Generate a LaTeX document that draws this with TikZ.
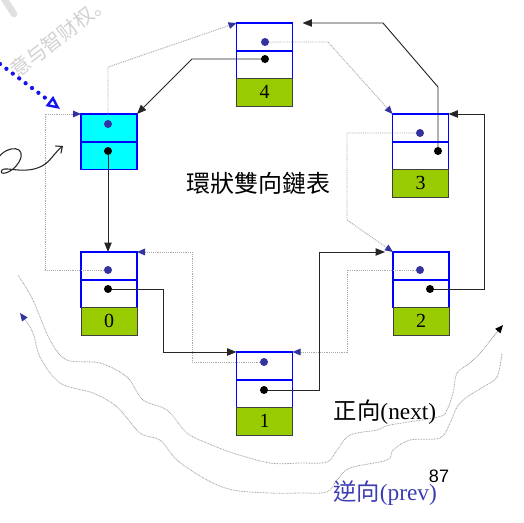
\documentclass[tikz,border=0pt]{standalone}
\usepackage{fontspec}
\setmainfont{Liberation Serif}
\newfontfamily\cjk{Noto Sans CJK TC}
\newfontfamily\cjksc{Noto Sans CJK SC}
\newfontfamily\sansf{Liberation Sans}
\usetikzlibrary{arrows.meta,calc}
\definecolor{boxblue}{RGB}{0,0,255}
\definecolor{headcyan}{RGB}{0,255,255}
\definecolor{datagreen}{RGB}{153,204,0}
\definecolor{prevblue}{RGB}{51,51,160}
\definecolor{prevgray}{RGB}{170,170,170}
\definecolor{txtblue}{RGB}{60,60,180}
\definecolor{hintblue}{RGB}{20,20,240}
\newcommand\lnode[4]{%
  \node[ptrcell] (#1p) at (#2,#3+13.85) {};
  \node[ptrcell] (#1n) at (#2,#3+41.55) {};
  \node[datacell] (#1d) at (#2,#3+69.25) {#4};
}
\begin{document}
\begin{tikzpicture}[x=0.75pt,y=-0.75pt,
  ptrcell/.style={draw=boxblue,line width=1.3pt,fill=white,minimum width=42pt,minimum height=20.8pt,inner sep=0pt,outer sep=0pt},
  headcell/.style={ptrcell,fill=headcyan},
  datacell/.style={draw=black!75,line width=0.6pt,fill=datagreen,minimum width=42pt,minimum height=20.8pt,inner sep=0pt,outer sep=0pt,font=\fontsize{15}{15}\selectfont},
  nextdot/.style={circle,fill=black,minimum size=6pt,inner sep=0pt},
  prevdot/.style={circle,fill=prevblue,minimum size=6pt,inner sep=0pt},
  nextline/.style={draw=black!85,line width=0.7pt,-{Triangle[length=7pt,width=5.5pt]}},
  prevline/.style={draw=prevgray,line width=0.7pt,dash pattern=on 0.7pt off 0.7pt,-{Triangle[length=6pt,width=5pt,color=prevblue]}},
  wavy/.style={draw=gray!75,line width=0.6pt,dash pattern=on 0.6pt off 0.6pt},
]
\useasboundingbox (0,0) rectangle (524,522);

% watermark
\draw[line width=5pt,black!12,line cap=round] (3,-3) -- (14,14);
\node[font=\cjksc\fontsize{15}{15}\selectfont,text=black!18,rotate=38,inner sep=0pt] (wm) at (60,36) {意与智财权。};

% cells
\node[headcell] (hdp) at (109,114+13.85) {};
\node[headcell] (hdn) at (109,114+41.55) {};
\lnode{n4}{264.5}{23}{4}
\lnode{n3}{420.5}{114}{3}
\lnode{n0}{109}{252}{0}
\lnode{n2}{421}{252}{2}
\lnode{n1}{264.5}{352}{1}

% dot positions
\coordinate (hp) at (108,124); \coordinate (hn) at (108,151);
\coordinate (p4) at (265,42);  \coordinate (x4) at (265,59);
\coordinate (p3) at (420,133); \coordinate (x3) at (438,151);
\coordinate (p2) at (420,270); \coordinate (x2) at (430,289);
\coordinate (p1) at (264,362); \coordinate (x1) at (264,390);
\coordinate (p0) at (108,270); \coordinate (x0) at (108,289);

% prev pointers
\draw[prevline] (hp) -- ++(0,-57) -- (n4p.north west);
\draw[prevline] (p4) -- ++(63,0) -- (n3p.north west);
\draw[prevline] (p3) -- ++(-73,0) -- ++(0,87) -- (n2p.north west);
\draw[prevline] (p2) -- ++(-73,0) |- (n1p.north east);
\draw[prevline] (p1) -- ++(-72,0) |- (n0p.north east);
\draw[prevline] (p0) -- ++(-63,0) |- (hdp.north west);

% next pointers
\draw[nextline] (hn) -- (hn |- n0p.north);
\draw[nextline] (x0) -- ++(55,0) |- (n1p.north west);
\draw[nextline] (x1) -- ++(55,0) |- ($(n2p.north west)+(-8,0)$);
\draw[nextline] (x2) -- ++(54,0) |- (n3p.north east);
\draw[nextline] (x3) -- ++(0,-64) -- ++(-55,-64) -- ($(n4p.north east)+(10,0)$);
\draw[nextline] (x4) -- ++(-73,0) -- (hdp.north east);

% dots
\foreach \d in {hp,p4,p3,p2,p1,p0} \node[prevdot] (\d dot) at (\d) {};
\foreach \d in {hn,x4,x3,x2,x1,x0} \node[nextdot] (\d dot) at (\d) {};

% wavy direction curves
\draw[wavy,-{Triangle[length=6pt,width=5pt,color=black]}] plot[smooth,tension=0.55] coordinates {
 (18,275) (33,300) (50,340) (67,360) (100,363) (127,377) (143,400) (167,410) (187,433) (207,443) (233,453) (270,463) (300,463) (327,462) (337,450) (350,435) (377,430) (390,425) (438,417) (447,410) (453,393) (457,373) (470,363) (483,350) (493,337) (503,325)};
\draw[wavy,{Triangle[length=6pt,width=5pt,color=prevblue]}-] plot[smooth,tension=0.55] coordinates {
 (20,313) (33,333) (40,357) (60,383) (93,393) (117,407) (140,433) (160,440) (177,460) (207,480) (233,490) (270,493) (300,493) (327,492) (337,480) (350,468) (387,460) (393,450) (410,440) (440,438) (450,423) (457,407) (467,397) (483,387) (497,377) (502,353)};

% left hints
\draw[hintblue,line width=3.2pt,line cap=round,dash pattern=on 0pt off 6pt,-{Triangle[open,length=10pt,width=9pt,line width=1.8pt]}] (0,64) -- (60,109);
\draw[black!85,line width=0.8pt,-{Straight Barb[length=4pt,width=7pt]}] (-2,158) .. controls (8,144) and (28,146) .. (19,162) .. controls (12,174) and (-2,176) .. (2,170) .. controls (5,166) and (25,175) .. (42,166) .. controls (50,162) and (55,152) .. (63,146);

% texts
\node[font=\cjk\fontsize{18}{20}\selectfont] (title) at (258,183) {環狀雙向鏈表};
\node[font=\fontsize{17.5}{20}\selectfont] (fwd) at (385,412) {{\cjk 正向}(next)};
\node[font=\fontsize{17.5}{20}\selectfont,text=txtblue] (bwd) at (385,493) {{\cjk 逆向}(prev)};
\node[font=\sansf\fontsize{13.5}{14}\selectfont] (pg) at (439,476) {87};
\end{tikzpicture}
\end{document}
